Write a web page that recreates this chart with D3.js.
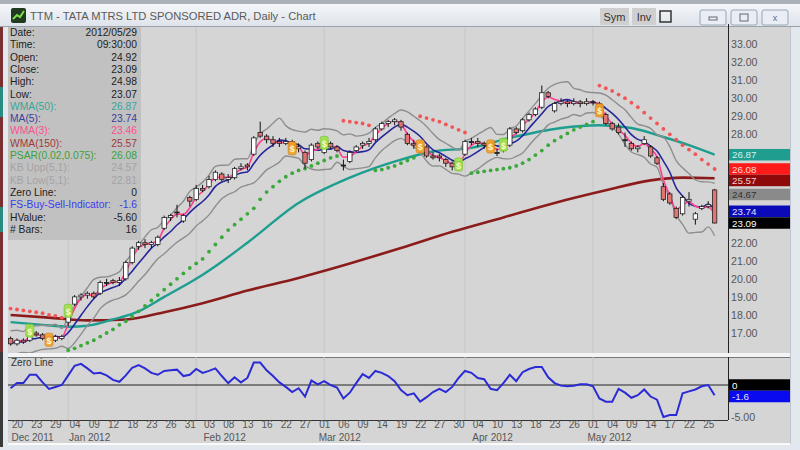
<!DOCTYPE html>
<html><head><meta charset="utf-8">
<script src="https://cdn.jsdelivr.net/npm/d3@7"></script>
<style>
body{margin:0;background:#e4e9ef;overflow:hidden;}
svg{display:block;font-family:"Liberation Sans",Arial,sans-serif;}
</style></head><body>
<svg id="c" width="800" height="450"></svg>
<script>
// ---------- DATA ----------
const dates = [
"2011-12-19","2011-12-20","2011-12-21","2011-12-22","2011-12-23","2011-12-27","2011-12-28","2011-12-29","2011-12-30",
"2012-01-03","2012-01-04","2012-01-05","2012-01-06","2012-01-09","2012-01-10","2012-01-11","2012-01-12","2012-01-13","2012-01-17","2012-01-18","2012-01-19","2012-01-20","2012-01-23","2012-01-24","2012-01-25","2012-01-26","2012-01-27","2012-01-30","2012-01-31",
"2012-02-01","2012-02-02","2012-02-03","2012-02-06","2012-02-07","2012-02-08","2012-02-09","2012-02-10","2012-02-13","2012-02-14","2012-02-15","2012-02-16","2012-02-17","2012-02-21","2012-02-22","2012-02-23","2012-02-24","2012-02-27","2012-02-28","2012-02-29",
"2012-03-01","2012-03-02","2012-03-05","2012-03-06","2012-03-07","2012-03-08","2012-03-09","2012-03-12","2012-03-13","2012-03-14","2012-03-15","2012-03-16","2012-03-19","2012-03-20","2012-03-21","2012-03-22","2012-03-23","2012-03-26","2012-03-27","2012-03-28","2012-03-29","2012-03-30",
"2012-04-02","2012-04-03","2012-04-04","2012-04-05","2012-04-09","2012-04-10","2012-04-11","2012-04-12","2012-04-13","2012-04-16","2012-04-17","2012-04-18","2012-04-19","2012-04-20","2012-04-23","2012-04-24","2012-04-25","2012-04-26","2012-04-27","2012-04-30",
"2012-05-01","2012-05-02","2012-05-03","2012-05-04","2012-05-07","2012-05-08","2012-05-09","2012-05-10","2012-05-11","2012-05-14","2012-05-15","2012-05-16","2012-05-17","2012-05-18","2012-05-21","2012-05-22","2012-05-23","2012-05-24","2012-05-25","2012-05-29"];

const opens = [16.7,16.4,16.6,16.6,17.0,16.9,16.7,16.6,16.7,
17.6,18.6,19.0,19.1,19.2,19.2,19.8,19.9,19.8,20.0,
20.9,21.8,22.0,21.9,21.9,22.8,23.4,23.7,23.2,24.5,
24.4,25.0,25.1,25.5,25.8,25.5,25.6,26.1,26.3,26.9,
28.1,27.9,27.7,27.6,27.5,27.6,27.2,27.0,26.6,27.5,
27.0,27.5,27.3,26.3,26.5,27.1,27.4,27.5,27.7,28.3,
28.6,28.7,28.7,28.0,27.5,27.4,27.3,26.8,26.8,26.6,
26.4,26.2,26.9,27.6,27.6,27.5,27.4,27.0,27.1,27.4,
28.3,28.2,28.8,29.1,29.5,30.3,29.3,29.7,29.8,29.7,
29.8,29.7,29.8,29.7,29.1,28.6,28.4,27.7,27.5,27.2,
27.5,27.3,26.7,25.1,24.7,23.9,23.6,24.3,23.3,23.9,
24.0,24.92];
const highs = [16.8,16.7,16.7,17.4,17.1,17.0,16.8,16.9,16.9,
18.4,19.1,19.2,19.3,19.3,19.9,20.0,20.0,20.1,21.0,
21.8,22.1,22.2,22.1,22.4,23.5,23.6,24.1,23.6,24.6,
25.2,25.2,25.7,26.0,25.9,25.8,26.2,26.4,26.4,27.9,
28.7,28.0,27.9,27.8,27.8,27.7,27.5,27.1,27.5,27.6,
27.6,27.6,27.4,26.6,27.1,27.4,27.6,27.8,28.4,28.7,
28.8,28.9,28.8,28.1,27.7,27.6,27.4,27.0,26.9,26.7,
26.5,26.5,27.7,27.8,27.8,27.6,27.5,27.2,27.5,28.4,
28.4,28.9,29.2,29.5,30.7,30.4,29.8,30.0,29.9,30.0,
29.9,30.0,29.9,29.8,29.2,28.7,28.6,28.1,27.6,27.4,
27.9,27.4,26.8,25.3,24.8,24.0,24.6,24.8,23.7,24.1,
24.3,24.98];
const lows = [16.3,16.3,16.4,16.5,16.8,16.6,16.5,16.5,16.6,
17.4,18.5,18.8,18.9,18.9,19.1,19.6,19.7,19.6,19.9,
20.8,21.6,21.7,21.7,21.8,22.7,23.2,23.4,23.1,24.0,
24.3,24.8,25.0,25.4,25.4,25.3,25.5,26.0,26.0,26.8,
27.8,27.5,27.3,27.3,27.4,27.1,27.0,26.1,26.5,27.2,
26.9,27.2,27.0,26.0,26.4,27.0,27.2,27.3,27.6,28.2,
28.4,28.5,28.2,27.4,27.2,27.1,26.7,26.6,26.5,26.2,
26.0,26.0,26.8,27.4,27.3,27.2,27.1,26.8,27.0,27.3,
28.0,28.1,28.7,29.0,29.4,30.0,29.2,29.6,29.5,29.6,
29.5,29.6,29.6,29.2,28.5,28.2,28.0,27.3,27.1,27.0,
27.4,26.7,26.3,24.3,24.1,23.3,23.5,24.0,23.0,23.8,
23.9,23.07];
const closes = [16.4,16.6,16.5,17.1,16.9,16.7,16.6,16.8,16.8,
18.2,19.0,19.1,19.2,19.0,19.8,19.8,19.8,19.9,20.9,
21.7,22.0,21.9,22.0,22.3,23.4,23.5,23.7,23.5,24.3,
25.0,24.9,25.5,25.9,25.5,25.6,26.1,26.2,26.2,27.8,
27.9,27.7,27.5,27.5,27.6,27.2,27.3,26.4,27.4,27.3,
27.5,27.3,27.1,26.3,27.0,27.3,27.5,27.6,28.3,28.6,
28.7,28.8,28.4,27.5,27.4,27.3,26.8,26.7,26.7,26.4,
26.2,26.3,27.6,27.6,27.5,27.4,27.3,27.0,27.4,28.3,
28.1,28.8,29.1,29.4,30.3,30.1,29.7,29.8,29.7,29.8,
29.7,29.8,29.8,29.3,28.6,28.3,28.1,27.7,27.2,27.3,
27.7,26.8,26.4,24.4,24.2,23.4,24.5,24.4,23.6,24.0,
24.1,23.09];

const psar = [18.35,18.3,18.25,18.2,18.15,18.1,18.0,17.95,17.85,
16.05,16.15,16.3,16.45,16.6,16.8,17.0,17.2,17.45,17.65,
17.9,18.2,18.5,18.8,19.1,19.4,19.7,20.0,20.3,20.6,
20.85,21.1,21.5,21.9,22.3,22.7,23.0,23.3,23.6,23.9,
24.4,24.8,25.1,25.4,25.65,25.85,26.0,26.1,26.25,26.4,
26.55,26.7,26.8,
28.75,28.7,28.65,28.6,28.5,
26.0,26.05,26.15,26.25,26.4,26.55,26.7,
29.0,28.9,28.8,28.7,28.55,28.4,28.25,28.1,
25.85,25.9,25.95,26.0,26.05,26.1,26.15,26.25,26.4,26.6,26.85,27.1,27.4,27.65,27.85,28.05,28.25,28.4,28.55,28.7,
30.7,30.55,30.4,30.2,30.0,29.75,29.5,29.2,28.9,28.6,28.3,28.0,27.7,27.4,27.15,26.9,26.6,26.35,26.08];

const fsIndicator = [-0.5,0.3,0.3,1.6,1.6,0.4,-0.6,-0.3,0.0,
1.5,3.0,3.3,2.6,1.8,1.9,1.5,0.8,0.5,1.5,
2.7,3.1,2.6,1.9,1.6,2.2,2.3,2.4,1.4,1.6,
2.5,1.9,2.2,2.6,1.4,0.3,1.2,0.4,1.1,3.5,
3.5,2.3,1.4,0.4,-0.3,-1.1,-0.5,-1.8,0.7,0.1,
0.6,0.0,-0.4,-2.1,-1.2,0.3,1.7,1.1,2.2,1.9,
1.4,0.6,-0.8,-1.6,-1.3,-2.6,-1.9,-1.1,-0.6,-1.1,
-0.3,1.1,2.2,1.9,1.1,0.9,-0.6,-0.8,0.3,1.6,
0.6,2.0,2.5,2.8,2.8,1.2,0.3,-0.1,-0.2,-0.1,
0.1,0.1,-0.2,-2.1,-2.6,-2.6,-0.6,-1.2,-2.0,-1.6,
-0.7,-1.8,-2.3,-5.0,-4.7,-4.7,-1.3,-1.0,-0.7,-0.2,
0.0,-1.6];

// long moving averages, read at sample bars
const wma50Idx = [0,5,9,12,16,20,24,29,33,37,45,53,61,66,72,78,86,92,97,102,106,110];
const wma50Val = [17.6,17.45,17.35,17.4,17.75,18.2,19.0,20.0,20.95,22.0,24.2,25.6,26.6,27.05,27.25,27.8,28.35,28.5,28.35,27.85,27.4,26.87];
const wma150Idx = [0,6,12,18,24,30,37,45,53,61,69,77,85,93,100,105,110];
const wma150Val = [18.0,17.85,17.7,17.75,18.15,18.65,19.35,20.05,20.85,21.7,22.6,23.4,24.2,24.9,25.45,25.6,25.57];

const buyIdx = [3,9,49,70,77];
const sellIdx = [6,44,64,75,92];

const priceTicks = [17,18,19,20,21,22,23,24,25,26,27,28,29,30,31,32,33];
const monthNames = ["Jan","Feb","Mar","Apr","May","Jun","Jul","Aug","Sep","Oct","Nov","Dec"];

const infoLabels = ["Date:","Time:","Open:","Close:","High:","Low:","WMA(50):","MA(5):","WMA(3):","WMA(150):","PSAR(0.02,0.075):","KB Upp(5,1):","KB Low(5,1):","Zero Line:","FS-Buy-Sell-Indicator:","HValue:","# Bars:"];
const infoValues = ["2012/05/29","09:30:00","24.92","23.09","24.98","23.07","26.87","23.74","23.46","25.57","26.08","24.57","22.81","0","-1.6","-5.60","16"];
const infoColors = ["#222","#222","#222","#222","#222","#222","#3aa597","#3d3d9a","#ff4f8e","#a23a3a","#3aa23a","#a3a3a3","#a3a3a3","#222","#3b3bf0","#222","#222"];

const priceBoxes = [
  {v:26.87, t:"26.87", bg:"#1f9d8e", fg:"#d8f0ee"},
  {v:26.08, t:"26.08", bg:"#ff1a1a", fg:"#ffd8d8"},
  {v:25.57, t:"25.57", bg:"#8e0a0a", fg:"#f0d0d0"},
  {v:24.67, t:"24.67", bg:"#8a8a8a", fg:"#333"},
  {v:23.74, t:"23.74", bg:"#0a0ab8", fg:"#e0e0ff"},
  {v:23.09, t:"23.09", bg:"#000000", fg:"#ffffff"}
];
const lowerBoxes = [
  {v:0, t:"0", bg:"#000", fg:"#fff"},
  {v:-1.6, t:"-1.6", bg:"#0a0af0", fg:"#e0e0ff"}
];

// ---------- DERIVED INDICATORS ----------
const n = dates.length;
const ma5 = closes.map((c,i)=>d3.mean(closes.slice(Math.max(0,i-4),i+1)));
const wma3 = closes.map((c,i)=> i<2 ? c : (3*c+2*closes[i-1]+closes[i-2])/6);
const tr = closes.map((c,i)=> i===0 ? highs[i]-lows[i] :
  Math.max(highs[i]-lows[i], Math.abs(highs[i]-closes[i-1]), Math.abs(lows[i]-closes[i-1])));
const atr = tr.map((t,i)=>d3.mean(tr.slice(Math.max(0,i-4),i+1)));
const kbUp = ma5.map((m,i)=>m+1.45*atr[i]);
const kbLo = ma5.map((m,i)=>m-1.45*atr[i]);

// ---------- SCALES ----------
const svg = d3.select("#c");
const x = d3.scaleLinear().domain([0,n-1]).range([10.6,714.6]);
const y = d3.scaleLinear().domain([17,33]).range([333,44]);
const yl = d3.scaleLinear().domain([-5,0]).range([417,385]);

const P = {l:8, r:728, t:27, b:353, lt:357, lb:420, ax:790};
const BOX_H = 11.5, BOX_FS = 9.8;

// ---------- FRAME ----------
const defs = svg.append("defs");
const g1 = defs.append("linearGradient").attr("id","tb").attr("x1",0).attr("y1",0).attr("x2",0).attr("y2",1);
g1.append("stop").attr("offset","0").attr("stop-color","#f4f6f9");
g1.append("stop").attr("offset","1").attr("stop-color","#dde3ea");
defs.append("clipPath").attr("id","cm").append("rect").attr("x",P.l).attr("y",P.t).attr("width",P.r-P.l).attr("height",P.b-P.t);
defs.append("clipPath").attr("id","cl").append("rect").attr("x",P.l).attr("y",P.lt).attr("width",P.r-P.l).attr("height",P.lb-P.lt);

svg.append("rect").attr("width",800).attr("height",450).attr("fill","#e3e8ee");
svg.append("rect").attr("x",0).attr("y",0).attr("width",800).attr("height",4).attr("fill","#a9b0b8");
svg.append("rect").attr("x",0).attr("y",4).attr("width",800).attr("height",23).attr("fill","url(#tb)");
svg.append("line").attr("x1",0).attr("x2",800).attr("y1",26.5).attr("y2",26.5).attr("stroke","#9aa3ad");
// left edge strip (window behind)
[["#7a3030",27,60],["#2a8c80",87,30],["#7a3030",117,90],["#2a8c80",207,25],["#7a3030",232,120],["#3a3a3a",352,95]].forEach(([c,a,h])=>{
  svg.append("rect").attr("x",0).attr("y",a).attr("width",3).attr("height",h).attr("fill",c);
});
svg.append("rect").attr("x",3).attr("y",27).attr("width",5).attr("height",420).attr("fill","#e3e8ee");

// icon
svg.append("rect").attr("x",11).attr("y",8).attr("width",15).attr("height",15).attr("rx",2).attr("fill","#1f3a1f");
svg.append("path").attr("d","M13,19 L17,15 L20,17 L24,11").attr("stroke","#7fdc4a").attr("stroke-width",2).attr("fill","none");
svg.append("text").attr("x",30).attr("y",20).attr("font-size",11.2).attr("fill","#5a5a5a")
  .text("TTM - TATA MTRS LTD SPONSORED ADR, Daily - Chart");
// toolbar buttons
[["Sym",600,29],["Inv",632,24]].forEach(([t,bx,bw])=>{
  svg.append("rect").attr("x",bx).attr("y",8).attr("width",bw).attr("height",17).attr("fill","#cfcfcf");
  svg.append("text").attr("x",bx+bw/2).attr("y",20.5).attr("text-anchor","middle").attr("font-size",11).attr("fill","#333").text(t);
});
svg.append("rect").attr("x",660).attr("y",11).attr("width",11).attr("height",11).attr("fill","none").attr("stroke","#333").attr("stroke-width",1.5);
[700,731,762].forEach((bx,i)=>{
  svg.append("rect").attr("x",bx).attr("y",10).attr("width",26).attr("height",15).attr("rx",2)
    .attr("fill","#e9eef4").attr("stroke","#9aa6b4");
  if(i===0) svg.append("rect").attr("x",bx+9).attr("y",17).attr("width",8).attr("height",3).attr("fill","none").attr("stroke","#667");
  if(i===1) svg.append("rect").attr("x",bx+9).attr("y",14).attr("width",8).attr("height",7).attr("fill","none").attr("stroke","#667");
  if(i===2) svg.append("text").attr("x",bx+13).attr("y",21).attr("text-anchor","middle").attr("font-size",9).attr("fill","#667").text("x");
});
svg.append("line").attr("x1",728.5).attr("x2",728.5).attr("y1",24).attr("y2",30).attr("stroke","#222");

// panels
svg.append("rect").attr("x",P.l).attr("y",P.t).attr("width",P.ax-P.l).attr("height",P.b-P.t).attr("fill","#d5d5d5");
svg.append("rect").attr("x",P.l).attr("y",P.b).attr("width",P.ax-P.l).attr("height",P.lt-P.b).attr("fill","#f3f4f5");
svg.append("rect").attr("x",P.l).attr("y",P.lt).attr("width",P.ax-P.l).attr("height",444-P.lt).attr("fill","#d5d5d5");
svg.append("line").attr("x1",P.l).attr("x2",P.ax).attr("y1",P.lt+0.5).attr("y2",P.lt+0.5).attr("stroke","#777");
svg.append("line").attr("x1",P.l).attr("x2",P.r).attr("y1",P.lb+0.5).attr("y2",P.lb+0.5).attr("stroke","#333");
svg.append("line").attr("x1",P.l).attr("x2",P.ax).attr("y1",444).attr("y2",444).attr("stroke","#fafafa").attr("stroke-width",2);
svg.append("line").attr("x1",P.ax+0.5).attr("x2",P.ax+0.5).attr("y1",P.t).attr("y2",444).attr("stroke","#bfc6ce");

// month gridlines
const monthStarts = d3.range(1,n).filter(i=>dates[i].slice(5,7)!==dates[i-1].slice(5,7));
monthStarts.forEach(i=>{
  [[P.t,P.b],[P.lt,P.lb]].forEach(([a,b])=>{
    svg.append("line").attr("x1",x(i)).attr("x2",x(i)).attr("y1",a).attr("y2",b)
      .attr("stroke","#c6c6c6").attr("stroke-width",1);
  });
});

// ---------- MAIN CHART ----------
const main = svg.append("g").attr("clip-path","url(#cm)");
const idx = d3.range(n);

main.append("path").attr("d",d3.line().curve(d3.curveMonotoneX).x((d,j)=>x(wma150Idx[j])).y(d=>y(d))(wma150Val))
  .attr("fill","none").attr("stroke","#8c1c1c").attr("stroke-width",2.6);
main.append("path").attr("d",d3.line().curve(d3.curveMonotoneX).x((d,j)=>x(wma50Idx[j])).y(d=>y(d))(wma50Val))
  .attr("fill","none").attr("stroke","#1e9e90").attr("stroke-width",2.4);
[kbUp,kbLo].forEach(a=>main.append("path").attr("d",d3.line().curve(d3.curveMonotoneX).x(i=>x(i)).y(i=>y(a[i]))(idx))
  .attr("fill","none").attr("stroke","#8e8e8e").attr("stroke-width",1.4));
main.selectAll(".ps").data(idx).join("circle")
  .attr("cx",i=>x(i)).attr("cy",i=>y(psar[i])).attr("r",1.9)
  .attr("fill",i=>psar[i]>closes[i]?"#f25555":"#3aa83a");
main.append("path").attr("d",d3.line().curve(d3.curveMonotoneX).x(i=>x(i)).y(i=>y(ma5[i]))(idx))
  .attr("fill","none").attr("stroke","#26269a").attr("stroke-width",1.6);
main.append("path").attr("d",d3.line().curve(d3.curveMonotoneX).x(i=>x(i)).y(i=>y(wma3[i]))(idx))
  .attr("fill","none").attr("stroke","#ff3d8f").attr("stroke-width",1.6);

// candles
const cw = 4.4;
const cg = main.append("g");
cg.selectAll(".wk").data(idx).join("line")
  .attr("x1",i=>x(i)).attr("x2",i=>x(i)).attr("y1",i=>y(highs[i])).attr("y2",i=>y(lows[i]))
  .attr("stroke","#111").attr("stroke-width",1);
cg.selectAll(".bd").data(idx).join("rect")
  .attr("x",i=>x(i)-cw/2).attr("width",cw)
  .attr("y",i=>y(Math.max(opens[i],closes[i])))
  .attr("height",i=>Math.max(1,Math.abs(y(opens[i])-y(closes[i]))))
  .attr("fill",i=>closes[i]>opens[i]?"#ffffff":(closes[i]<opens[i]?"#e27474":"#111"))
  .attr("stroke","#222").attr("stroke-width",0.8);

// signal markers
function marker(list,fill,edge){
  const m = main.selectAll(null).data(list).join("g")
    .attr("transform",i=>`translate(${x(i)},${y(closes[i])})`);
  m.append("rect").attr("x",-4).attr("y",-7).attr("width",8).attr("height",13).attr("rx",2)
    .attr("fill",fill).attr("stroke",edge).attr("stroke-width",0.8).attr("opacity",0.92);
  m.append("text").attr("y",3.5).attr("text-anchor","middle").attr("font-size",9).attr("font-weight","bold")
    .attr("fill","#fff8d0").text("$");
}
marker(sellIdx,"#f2a22a","#d98010");
marker(buyIdx,"#9fe24a","#7cc43a");

// info panel
const ip = svg.append("g");
ip.append("rect").attr("x",P.l).attr("y",P.t).attr("width",133).attr("height",213).attr("fill","#bfbfbf").attr("opacity",0.93);
infoLabels.forEach((l,r)=>{
  const yy = 36+12.3*r;
  ip.append("text").attr("x",10).attr("y",yy).attr("font-size",10.3).attr("fill",infoColors[r]).text(l);
  ip.append("text").attr("x",137).attr("y",yy).attr("text-anchor","end").attr("font-size",10.3).attr("fill",infoColors[r]).text(infoValues[r]);
});

// right price axis
svg.append("line").attr("x1",P.r+0.5).attr("x2",P.r+0.5).attr("y1",P.t).attr("y2",P.b).attr("stroke","#222");
svg.append("line").attr("x1",P.r+0.5).attr("x2",P.r+0.5).attr("y1",P.lt).attr("y2",P.lb).attr("stroke","#222");

function stack(boxes, scale){
  let last = -1e9;
  return boxes.map(b=>{ const cy = Math.max(scale(b.v), last+BOX_H); last = cy; return cy; });
}
const boxPos = stack(priceBoxes, y);
const covered = v => boxPos.some(cy => Math.abs(y(v)-cy) < 11.5);
const axR = svg.append("g").attr("transform",`translate(${P.r},0)`)
  .call(d3.axisRight(y).tickValues(priceTicks.filter(v=>!covered(v))).tickFormat(d3.format(".2f")).tickSize(0).tickPadding(3));
axR.select(".domain").remove();
axR.selectAll("text").attr("font-size",10.6).attr("fill","#555").attr("font-family","Liberation Sans, Arial");

function drawBoxes(boxes, pos){
  boxes.forEach((b,j)=>{
    const cy = pos[j];
    svg.append("rect").attr("x",P.r+1).attr("y",cy-BOX_H/2).attr("width",P.ax-P.r-1).attr("height",BOX_H).attr("fill",b.bg);
    svg.append("text").attr("x",P.r+4).attr("y",cy+3.6).attr("font-size",BOX_FS).attr("fill",b.fg).text(b.t);
  });
}
drawBoxes(priceBoxes, boxPos);

// ---------- LOWER PANEL ----------
const low = svg.append("g").attr("clip-path","url(#cl)");
low.append("line").attr("x1",P.l).attr("x2",P.r).attr("y1",yl(0)).attr("y2",yl(0)).attr("stroke","#222").attr("stroke-width",1);
low.append("path").attr("d",d3.line().x(i=>x(i)).y(i=>yl(fsIndicator[i]))(idx))
  .attr("fill","none").attr("stroke","#2b2bd6").attr("stroke-width",2);
svg.append("text").attr("x",11).attr("y",366).attr("font-size",10).attr("fill","#333").text("Zero Line");
drawBoxes(lowerBoxes, stack(lowerBoxes, yl));
svg.append("text").attr("x",P.r+3).attr("y",yl(-5)+4).attr("font-size",10.6).attr("fill","#555").text("-5.00");

// ---------- DATE AXIS ----------
const tickIdx = d3.range(1,n,3);
const axB = svg.append("g").attr("transform",`translate(0,${P.lb})`)
  .call(d3.axisBottom(x).tickValues(tickIdx).tickFormat(i=>dates[i].slice(8,10)).tickSize(0).tickPadding(0));
axB.select(".domain").remove();
axB.selectAll("text").attr("font-size",10).attr("fill","#555").attr("font-family","Liberation Sans, Arial").attr("dy","0.8em");
let prevM = null;
tickIdx.forEach(i=>{
  const m = dates[i].slice(0,7);
  if(m!==prevM){
    const mi = +dates[i].slice(5,7)-1;
    svg.append("text").attr("x",x(i)-5.5).attr("y",441).attr("font-size",10).attr("fill","#555")
      .text(monthNames[mi]+" "+dates[i].slice(0,4));
    prevM = m;
  }
});
</script>
</body></html>
